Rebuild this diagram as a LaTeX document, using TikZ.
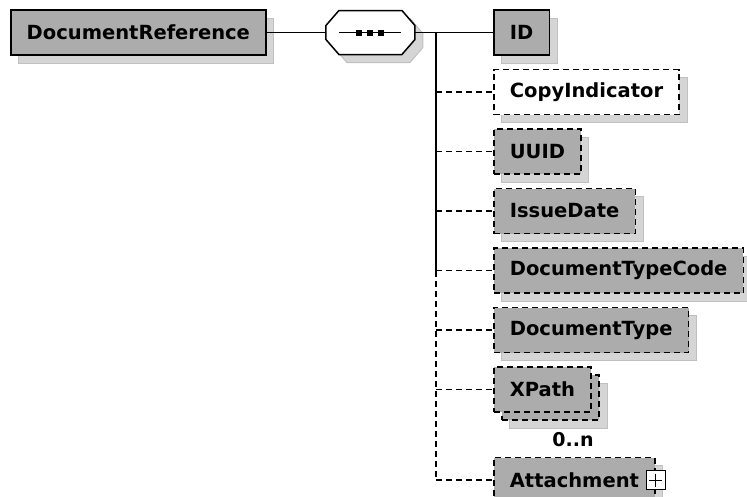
\documentclass[tikz,border=0pt]{standalone}
\usepackage{fontspec}
\setmainfont{DejaVu Sans}
\usetikzlibrary{positioning,shadows}
\definecolor{elgray}{RGB}{172,172,172}
\definecolor{shadefill}{RGB}{213,213,213}
\definecolor{shadeline}{RGB}{192,192,192}

\tikzset{
  elbase/.style={draw, line width=1.5pt, fill=elgray, minimum height=45pt, inner xsep=16pt,
    font=\bfseries\fontsize{19.5}{21}\selectfont},
  elshadow/.style={general shadow={fill=shadefill, draw=shadeline, line width=1pt, solid,
    shadow xshift=#1, shadow yshift=-#1}},
  optdash/.style={dash pattern=on 6pt off 4pt},
  elem/.style={elbase, elshadow=8pt},
  optelem/.style={elem, optdash},
  multielem/.style={elbase, optdash, elshadow=16pt,
    general shadow={fill=elgray, draw=black, line width=1.5pt, dash pattern=on 6pt off 4pt,
      shadow xshift=8pt, shadow yshift=-8pt}},
  seqbox/.style={minimum width=89pt, minimum height=44pt, inner sep=0pt},
  seqshade/.style={fill=shadefill, draw=shadeline, line width=1pt},
  seqline/.style={fill=white, draw=black, line width=1.5pt},
  plusbox/.style={draw, line width=1pt, fill=white, minimum size=19pt, inner sep=0pt,
    path picture={
      \draw[line width=1pt] ([yshift=-3pt]path picture bounding box.north) -- ([yshift=3pt]path picture bounding box.south);
      \draw[line width=1pt] ([xshift=3pt]path picture bounding box.west) -- ([xshift=-3pt]path picture bounding box.east);}},
  conn/.style={line width=1.4pt},
  multlabel/.style={font=\bfseries\fontsize{19}{20}\selectfont, inner sep=0pt}
}

\begin{document}
\begin{tikzpicture}[x=1pt,y=-1pt]
\useasboundingbox (0,0) rectangle (747,496);
% ---------------- parent and sequence ----------------
\node[elem, anchor=west] (docref) at (10,32.5) {DocumentReference};
\node[seqbox, right=59pt of docref] (seq) {};
\foreach \off/\sty in {8/seqshade,0/seqline}
  \draw[\sty] ([shift={(\off,\off)}]seq.center) +(-44.5,-7) -- +(-31.5,-22) -- +(31.5,-22)
    -- +(44.5,-7) -- +(44.5,7) -- +(31.5,22) -- +(-31.5,22) -- +(-44.5,7) -- cycle;
\draw[line width=1.5pt] ([xshift=-31pt]seq.center) -- ([xshift=31pt]seq.center);
\foreach \dx in {-11,0,11}
  \fill ([xshift=\dx pt]seq.center) +(-3,-3) rectangle +(3,3);
\coordinate[right=21pt of seq] (bus);
% ---------------- children ----------------
\node[elem, right=78pt of seq] (id) {ID};
\node[optelem, fill=white, below right=13pt and 0pt of id.south west] (copyind) {CopyIndicator};
\node[optelem, below right=13pt and 0pt of copyind.south west] (uuid) {UUID};
\node[optelem, below right=13pt and 0pt of uuid.south west] (issuedate) {IssueDate};
\node[optelem, below right=13pt and 0pt of issuedate.south west] (dtcode) {DocumentTypeCode};
\node[optelem, below right=13pt and 0pt of dtcode.south west] (dtype) {DocumentType};
\node[multielem, below right=13pt and 0pt of dtype.south west] (xpath) {XPath};
\node[multlabel, below left=19pt and -2pt of xpath.south east] (xmult) {0..n};
\node[optelem, below right=44pt and 0pt of xpath.south west] (attach) {Attachment};
\node[plusbox] (attplus) at (attach.east) {};
% ---------------- connectors ----------------
\draw[conn] (docref) -- (seq);
\draw[conn] (seq) -- (bus);
\draw[conn] (bus) -- (id);
\draw[conn] (bus) -- (bus |- dtcode.west);
\draw[conn, optdash] (bus |- dtcode.west) -- (bus |- attach.west);
\foreach \n in {copyind,uuid,issuedate,dtcode,dtype,xpath,attach}
  \draw[conn, optdash] (bus |- \n.west) -- (\n.west);
\end{tikzpicture}
\end{document}
